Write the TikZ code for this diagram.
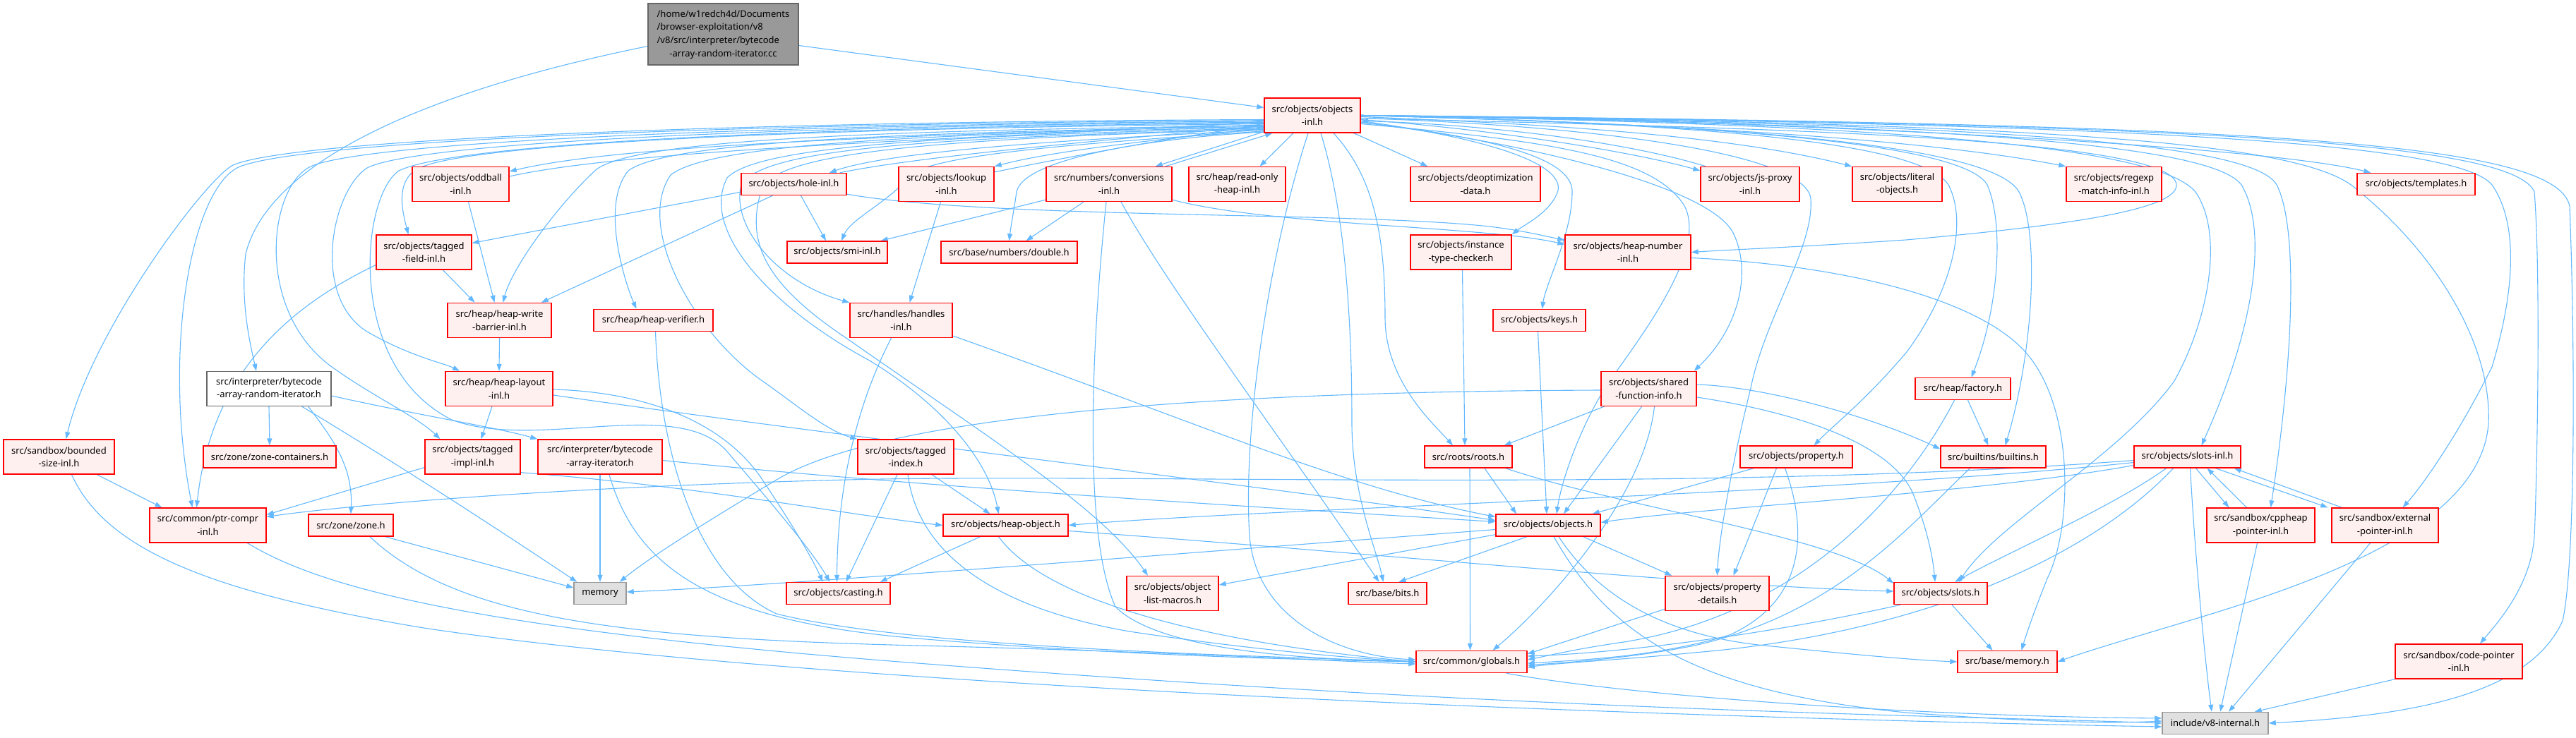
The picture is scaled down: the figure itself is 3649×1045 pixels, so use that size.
\documentclass[tikz,border=0pt]{standalone}
\usepackage{fontspec}
\setmainfont{Noto Sans}
\usetikzlibrary{arrows.meta,calc}
\pgfdeclarelayer{bg}
\pgfsetlayers{bg,main}
\definecolor{pinkbg}{HTML}{FFF0F0}
\definecolor{edgeblue}{HTML}{63B8FF}
\definecolor{rootfill}{HTML}{999999}
\definecolor{rootdraw}{HTML}{666666}
\definecolor{sysfill}{HTML}{E0E0E0}
\definecolor{sysdraw}{HTML}{999999}
\newcommand\fsz{\fontsize{13pt}{18.7pt}\selectfont}
\begin{document}
\begin{tikzpicture}[x=1pt,y=-1pt,
  nb/.style={draw=red, fill=pinkbg, line width=1.4pt, inner sep=0pt, align=center, font=\fsz},
  rootbox/.style={nb, fill=rootfill, draw=rootdraw},
  whitebox/.style={nb, fill=white, draw=rootdraw},
  sysbox/.style={nb, fill=sysfill, draw=sysdraw},
  one/.style={minimum height=31pt},
  two/.style={minimum height=49pt},
  e/.style={draw=edgeblue, line width=1.1pt, -{Triangle[length=10pt,width=7pt]}}]
\useasboundingbox (0,0) rectangle (3649,1045);
% ---------- nodes ----------
\node[rootbox, minimum width=213pt, minimum height=87pt] (root) at (1024.5,48.5)
  {\begin{tabular}{@{}l@{}}/home/w1redch4d/Documents\\/browser-exploitation/v8\\/v8/src/interpreter/bytecode\\\multicolumn{1}{@{}c@{}}{-array-random-iterator.cc}\end{tabular}};
\node[nb, two, minimum width=136pt] (objinl) at (1859,163.5) {src/objects/objects\\-inl.h};
% row 3
\node[nb, two, minimum width=137pt] (oddball) at (652.5,261) {src/objects/oddball\\-inl.h};
\node[nb, one, minimum width=149pt] (hole) at (1124.5,261) {src/objects/hole-inl.h};
\node[nb, two, minimum width=135pt] (lookup) at (1340.5,261) {src/objects/lookup\\-inl.h};
\node[nb, two, minimum width=178pt] (conv) at (1571,261) {src/numbers/conversions\\-inl.h};
\node[nb, two, minimum width=137pt] (ronly) at (1752.5,261) {src/heap/read-only\\-heap-inl.h};
\node[nb, two, minimum width=184pt] (deopt) at (2090,261) {src/objects/deoptimization\\-data.h};
\node[nb, two, minimum width=140pt] (jsproxy) at (2479,261) {src/objects/js-proxy\\-inl.h};
\node[nb, two, minimum width=127pt] (literal) at (2687.5,261) {src/objects/literal\\-objects.h};
\node[nb, two, minimum width=135pt] (regexp) at (2994.5,261) {src/objects/regexp\\-match-info-inl.h};
\node[nb, one, minimum width=167pt] (templ) at (3422.5,261) {src/objects/templates.h};
% row 4
\node[nb, two, minimum width=135pt] (tfield) at (600.5,357.5) {src/objects/tagged\\-field-inl.h};
\node[nb, one, minimum width=142pt] (smi) at (1186,357.5) {src/objects/smi-inl.h};
\node[nb, one, minimum width=193pt] (dbl) at (1429.5,357.5) {src/base/numbers/double.h};
\node[nb, two, minimum width=143pt] (inst) at (2069.5,357.5) {src/objects/instance\\-type-checker.h};
\node[nb, two, minimum width=178pt] (hnum) at (2306,357.5) {src/objects/heap-number\\-inl.h};
% row 5
\node[nb, two, minimum width=147pt] (hwb) at (707.5,454) {src/heap/heap-write\\-barrier-inl.h};
\node[nb, one, minimum width=169pt] (verif) at (925.5,454) {src/heap/heap-verifier.h};
\node[nb, two, minimum width=145pt] (handles) at (1276.5,454) {src/handles/handles\\-inl.h};
\node[nb, one, minimum width=131pt] (keys) at (2180.5,454) {src/objects/keys.h};
% row 6
\node[whitebox, two, minimum width=176pt] (brit) at (381,551) {src/interpreter/bytecode\\-array-random-iterator.h};
\node[nb, two, minimum width=152pt] (hlayout) at (707,551) {src/heap/heap-layout\\-inl.h};
\node[nb, two, minimum width=135pt] (shared) at (2335.5,551) {src/objects/shared\\-function-info.h};
\node[nb, one, minimum width=135pt] (factory) at (2780.5,551) {src/heap/factory.h};
% row 7
\node[nb, two, minimum width=157pt] (bounded) at (83.5,647.5) {src/sandbox/bounded\\-size-inl.h};
\node[nb, one, minimum width=188pt] (zonec) at (382,647.5) {src/zone/zone-containers.h};
\node[nb, two, minimum width=135pt] (timpl) at (669.5,647.5) {src/objects/tagged\\-impl-inl.h};
\node[nb, two, minimum width=176pt] (bai) at (850,647.5) {src/interpreter/bytecode\\-array-iterator.h};
\node[nb, two, minimum width=136pt] (tindex) at (1283,647.5) {src/objects/tagged\\-index.h};
\node[nb, one, minimum width=124pt] (roots) at (2080,647.5) {src/roots/roots.h};
\node[nb, one, minimum width=159pt] (prop) at (2544.5,647.5) {src/objects/property.h};
\node[nb, one, minimum width=149pt] (builtins) at (2823.5,647.5) {src/builtins/builtins.h};
\node[nb, one, minimum width=151pt] (slotsinl) at (3098.5,647.5) {src/objects/slots-inl.h};
% row 8
\node[nb, two, minimum width=165pt] (ptrc) at (294.5,744.5) {src/common/ptr-compr\\-inl.h};
\node[nb, one, minimum width=120pt] (zone) at (497,744.5) {src/zone/zone.h};
\node[nb, one, minimum width=177pt] (hobj) at (1424.5,744.5) {src/objects/heap-object.h};
\node[nb, one, minimum width=148pt] (objh) at (2193,744.5) {src/objects/objects.h};
\node[nb, two, minimum width=153pt] (cppheap) at (3202.5,744.5) {src/sandbox/cppheap\\-pointer-inl.h};
\node[nb, two, minimum width=151pt] (extp) at (3378.5,744.5) {src/sandbox/external\\-pointer-inl.h};
% row 9
\node[sysbox, one, minimum width=74pt] (memory) at (850,841) {memory};
\node[nb, one, minimum width=147pt] (casting) at (1187.5,841) {src/objects/casting.h};
\node[nb, two, minimum width=130pt] (olm) at (1661,841) {src/objects/object\\-list-macros.h};
\node[nb, one, minimum width=111pt] (bits) at (1965.5,841) {src/base/bits.h};
\node[nb, two, minimum width=147pt] (pdet) at (2432.5,841) {src/objects/property\\-details.h};
\node[nb, one, minimum width=132pt] (slots) at (2749,841) {src/objects/slots.h};
% row 10
\node[nb, one, minimum width=157pt] (globals) at (2084.5,938) {src/common/globals.h};
\node[nb, one, minimum width=141pt] (bmem) at (2843.5,938) {src/base/memory.h};
\node[nb, two, minimum width=180pt] (codeptr) at (3483,937.5) {src/sandbox/code-pointer\\-inl.h};
% row 11
\node[sysbox, one, minimum width=150pt] (v8int) at (3138,1025) {include/v8-internal.h};
% ---------- edges ----------
\begin{pgfonlayer}{bg}
% root
\draw[e] ($(root.east)+(0,16)$) -- ($(objinl.west)+(0,-11)$);
\draw[e] ($(root.west)+(0,17)$) .. controls (600,130) and (380,230) .. (348,360) .. controls (340,430) and (355,490) .. ($(brit.north)+(-18,0)$);
% objects-inl : left bundle
\draw[e] (objinl.185) .. controls (1100,172) and (420,195) .. (330,234) .. controls (290,255) and (130,470) .. ($(bounded.north)+(10,0)$);
\draw[e] (objinl.186) .. controls (1100,174) and (440,197) .. (340,236) .. controls (270,265) and (230,500) .. ($(ptrc.north)+(-22,0)$);
\draw[e] (objinl.187) .. controls (1100,176) and (520,200) .. (440,236) .. controls (380,265) and (360,440) .. (470,520) .. controls (530,563) and (590,590) .. ($(timpl.north)+(-46,0)$);
\draw[e] (objinl.188) .. controls (1100,178) and (590,202) .. (520,238) .. controls (470,270) and (440,420) .. (520,470) .. controls (580,505) and (630,515) .. ($(hlayout.north)+(-56,0)$);
\draw[e] (objinl.189) .. controls (1100,180) and (640,205) .. (565,242) .. controls (510,280) and (490,520) .. (640,595) .. controls (760,640) and (960,560) .. (1030,640) .. controls (1090,710) and (1150,780) .. ($(casting.north)+(-12,0)$);
\draw[e] (objinl.190) .. controls (1100,182) and (650,205) .. (590,240) .. controls (560,258) and (570,300) .. ($(tfield.north)+(-22,0)$);
\draw[e] (objinl.191) .. controls (1400,190) and (900,200) .. ($(oddball.east)+(0,-18)$);
\draw[e] ($(oddball.east)+(0,-11)$) .. controls (900,210) and (1400,196) .. (objinl.188);
\draw[e] (objinl.192) .. controls (1200,185) and (900,200) .. (845,240) .. controls (790,290) and (725,380) .. ($(hwb.north)+(5,0)$);
\draw[e] (objinl.193) .. controls (1200,188) and (940,205) .. (890,242) .. controls (850,290) and (885,400) .. ($(verif.north)+(-24,0)$);
\draw[e] (objinl.194) .. controls (1250,190) and (1000,208) .. (950,248) .. controls (900,320) and (980,470) .. (1080,540) .. controls (1130,575) and (1170,610) .. (tindex.north west);
\draw[e] (objinl.195) .. controls (1300,192) and (1070,210) .. (1030,252) .. controls (990,330) and (1100,440) .. (1230,510) .. controls (1330,570) and (1400,650) .. ($(hobj.north)+(-10,0)$);
\draw[e] (objinl.196) .. controls (1300,195) and (1080,212) .. (1050,262) .. controls (1035,320) and (1100,400) .. (handles.north west);
\draw[e] (objinl.196) .. controls (1300,197) and (1110,218) .. (1080,265) .. controls (1055,340) and (1080,400) .. (1200,480) .. controls (1400,620) and (1560,720) .. ($(olm.north)+(-35,0)$);
\draw[e] (objinl.197) .. controls (1500,198) and (1260,215) .. ($(hole.north east)+(-25,0)$);
\draw[e] ($(hole.north east)+(-10,0)$) .. controls (1300,222) and (1550,200) .. (objinl.192);
\draw[e] (objinl.198) .. controls (1550,202) and (1310,218) .. (1285,252) .. controls (1265,282) and (1205,310) .. ($(smi.north)+(6,0)$);
\draw[e] (objinl.199) .. controls (1650,194) and (1450,222) .. (1440,272) .. controls (1436,300) and (1432,320) .. (dbl.north);
\draw[e] (objinl.195) .. controls (1650,197) and (1500,212) .. (lookup.north east);
\draw[e] ($(lookup.north east)+(0,8)$) .. controls (1550,215) and (1700,188) .. (objinl.192);
\draw[e] ($(objinl.south west)+(0,-2)$) -- ($(conv.north east)+(-24,0)$);
\draw[e] ($(conv.north east)+(-10,0)$) -- ($(objinl.south west)+(12,0)$);
\draw[e] ($(objinl.south)+(-27,0)$) -- ($(ronly.north)+(32,0)$);
\draw[e] ($(objinl.south east)+(-10,0)$) -- ($(deopt.north west)+(25,0)$);
\draw[e] ($(objinl.south)+(-6,0)$) .. controls (1800,350) and (1760,600) .. (1770,760) .. controls (1780,880) and (1900,930) .. ($(globals.west)+(0,-3)$);
\draw[e] ($(objinl.south)+(12,0)$) .. controls (1905,300) and (1915,450) .. (1915,600) .. controls (1915,700) and (1950,780) .. ($(bits.north)+(-6,0)$);
\draw[e] ($(objinl.south)+(30,0)$) .. controls (1945,250) and (1962,330) .. (1962,450) .. controls (1962,540) and (2030,600) .. ($(roots.north)+(-22,0)$);
% objects-inl : right bundle
\draw[e] ($(objinl.east)+(0,8)$) .. controls (2100,195) and (2215,230) .. (2207,270) .. controls (2198,300) and (2160,318) .. (inst.north east);
\draw[e] ($(objinl.east)+(0,10)$) .. controls (2120,195) and (2225,225) .. (2227,270) .. controls (2228,330) and (2190,400) .. ($(keys.north)+(4,0)$);
\draw[e] ($(objinl.east)+(0,12)$) .. controls (2200,200) and (2340,222) .. (2385,290) .. controls (2420,350) and (2330,470) .. (2280,540) .. controls (2240,600) and (2212,680) .. ($(objh.north)+(12,0)$);
\draw[e] ($(objinl.east)+(0,10)$) .. controls (2150,200) and (2420,262) .. (2455,330) .. controls (2480,380) and (2468,460) .. ($(shared.north east)+(-4,0)$);
\draw[e] ($(objinl.east)+(0,4)$) .. controls (2400,180) and (3080,190) .. (3083,262) .. controls (3085,300) and (2900,322) .. (2700,340) .. controls (2550,350) and (2450,354) .. (hnum.east);
\draw[e] ($(objinl.east)+(0,6)$) .. controls (2100,182) and (2300,212) .. ($(jsproxy.north west)+(0,6)$);
\draw[e] ($(jsproxy.north west)+(8,0)$) .. controls (2300,200) and (2100,176) .. ($(objinl.east)+(0,8)$);
\draw[e] ($(objinl.east)+(0,2)$) .. controls (2200,176) and (2450,192) .. (literal.north west);
\draw[e] (objinl.east) .. controls (2300,174) and (2700,192) .. (regexp.north west);
\draw[e] (objinl.east) .. controls (2500,170) and (3200,205) .. ($(templ.north west)+(20,0)$);
\draw[e] ($(objinl.east)+(0,4)$) .. controls (2300,180) and (2560,222) .. (2565,282) .. controls (2570,350) and (2500,450) .. (2480,550) .. controls (2455,650) and (2435,760) .. (pdet.north);
\draw[e] (objinl.east) .. controls (2400,175) and (2720,200) .. (2760,262) .. controls (2790,320) and (2760,420) .. (2700,500) .. controls (2640,570) and (2600,600) .. ($(prop.north)+(25,0)$);
\draw[e] (objinl.east) .. controls (2400,175) and (2780,200) .. (2815,262) .. controls (2840,320) and (2830,440) .. ($(factory.north)+(12,0)$);
\draw[e] (objinl.east) .. controls (2400,175) and (2820,200) .. (2860,272) .. controls (2890,330) and (2880,500) .. ($(builtins.north)+(17,0)$);
\draw[e] (objinl.east) .. controls (2600,175) and (3050,200) .. (3110,272) .. controls (3150,330) and (3130,450) .. (3080,540) .. controls (3000,650) and (2830,740) .. ($(slots.north)+(26,0)$);
\draw[e] (objinl.east) .. controls (2700,175) and (3130,200) .. (3175,262) .. controls (3210,320) and (3200,450) .. ($(slotsinl.north)+(20,0)$);
\draw[e] (objinl.east) .. controls (2800,175) and (3190,200) .. (3225,262) .. controls (3255,320) and (3250,500) .. ($(cppheap.north)+(14,0)$);
\draw[e] (objinl.east) .. controls (2900,175) and (3270,200) .. (3340,270) .. controls (3440,350) and (3530,480) .. (3525,600) .. controls (3515,740) and (3300,820) .. (3100,880) .. controls (3000,910) and (2950,925) .. (bmem.east);
\draw[e] (objinl.east) .. controls (3000,175) and (3480,200) .. (3530,262) .. controls (3570,320) and (3560,420) .. (3530,520) .. controls (3480,620) and (3430,690) .. ($(extp.north)+(25,0)$);
\draw[e] (objinl.east) .. controls (3100,175) and (3560,200) .. (3590,272) .. controls (3600,400) and (3593,700) .. (3590,760) .. controls (3585,830) and (3540,880) .. ($(codeptr.north)+(30,0)$);
\draw[e] (objinl.east) .. controls (3200,175) and (3620,200) .. (3640,292) .. controls (3648,500) and (3648,800) .. (3630,880) .. controls (3580,990) and (3400,1015) .. (v8int.east);
% bytecode iterators, zone
\draw[e] (brit.south) -- (zonec.north);
\draw[e] ($(brit.south east)+(-33,0)$) .. controls (470,620) and (500,660) .. (zone.north);
\draw[e] ($(brit.south east)+(-42,0)$) .. controls (600,680) and (750,780) .. ($(memory.north west)+(5,0)$);
\draw[e] ($(brit.east)+(0,10)$) .. controls (600,590) and (700,605) .. (bai.north west);
\draw[e] (bai.south) -- (memory.north);
\draw[e] ($(bai.south)+(13,0)$) .. controls (900,800) and (1000,880) .. (1300,905) .. controls (1600,930) and (1850,935) .. (globals.west);
\draw[e] ($(bai.east)+(0,5)$) .. controls (1300,690) and (1800,720) .. ($(objh.west)+(0,-5)$);
\draw[e] ($(zone.south east)+(-12,0)$) -- ($(memory.west)+(0,-8)$);
\draw[e] ($(zone.south)+(27,0)$) .. controls (650,880) and (900,905) .. (1300,915) .. controls (1700,925) and (1900,938) .. ($(globals.west)+(0,3)$);
% sandbox / ptr-compr
\draw[e] ($(bounded.south)+(54,0)$) -- ($(ptrc.north west)+(18,0)$);
\draw[e] ($(bounded.south)+(18,0)$) .. controls (150,780) and (300,840) .. (600,890) .. controls (1200,980) and (2500,1020) .. ($(v8int.west)+(0,5)$);
\draw[e] ($(ptrc.south)+(56,0)$) .. controls (450,830) and (650,890) .. (1300,940) .. controls (2200,1010) and (2800,1015) .. (v8int.west);
% tagged / heap
\draw[e] ($(tfield.south)+(27,0)$) -- ($(hwb.north)+(-35,0)$);
\draw[e] ($(tfield.west)+(0,18)$) .. controls (420,430) and (300,520) .. ($(ptrc.north)+(-16,0)$);
\draw[e] ($(oddball.south)+(11,0)$) -- ($(hwb.north)+(-7,0)$);
\draw[e] ($(hole.south west)+(0,-5)$) -- ($(tfield.east)+(0,-13)$);
\draw[e] ($(hole.south)+(-30,0)$) -- ($(hwb.north east)+(-15,0)$);
\draw[e] ($(hole.south)+(10,0)$) -- ($(smi.north)+(-16,0)$);
\draw[e] ($(hole.south east)+(0,-2)$) .. controls (1400,310) and (1900,300) .. (2100,320) .. controls (2150,325) and (2190,335) .. ($(hnum.north west)+(0,8)$);
\draw[e] (hwb.south) -- (hlayout.north);
\draw[e] ($(hlayout.south)+(-10,0)$) -- ($(timpl.north)+(12,0)$);
\draw[e] ($(hlayout.east)+(0,1)$) .. controls (900,555) and (1020,590) .. (1080,680) .. controls (1120,740) and (1150,790) .. ($(casting.north)+(-22,0)$);
\draw[e] ($(hlayout.east)+(0,9)$) .. controls (1200,620) and (1800,690) .. ($(objh.west)+(0,-7)$);
\draw[e] ($(verif.south)+(3,0)$) .. controls (935,650) and (990,820) .. (1100,870) .. controls (1300,920) and (1800,930) .. (globals.west);
\draw[e] ($(lookup.south)+(-8,0)$) -- ($(handles.north)+(12,0)$);
\draw[e] ($(handles.south)+(-14,0)$) .. controls (1210,580) and (1186,700) .. ($(casting.north)+(-2,0)$);
\draw[e] ($(handles.east)+(0,22)$) .. controls (1700,600) and (1900,690) .. ($(objh.west)+(0,-12)$);
% conversions
\draw[e] ($(conv.south west)+(0,-3)$) -- ($(smi.north east)+(-10,0)$);
\draw[e] ($(conv.south)+(-36,0)$) -- ($(dbl.north)+(24,0)$);
\draw[e] ($(conv.south east)+(0,-3)$) .. controls (1800,320) and (2100,320) .. ($(hnum.north west)+(0,14)$);
\draw[e] ($(conv.south)+(-4,0)$) .. controls (1550,450) and (1530,750) .. (1580,860) .. controls (1650,930) and (1900,935) .. (globals.west);
\draw[e] ($(conv.south)+(17,0)$) .. controls (1650,400) and (1800,600) .. ($(bits.north)+(-12,0)$);
\draw[e] ($(inst.south)+(2,0)$) -- ($(roots.north)+(-5,0)$);
\draw[e] ($(keys.south)+(-2,0)$) -- ($(objh.north)+(-2,0)$);
\draw[e] ($(hnum.east)+(0,8)$) .. controls (2600,375) and (2800,420) .. (2870,500) .. controls (2940,580) and (2935,750) .. (2900,820) .. controls (2880,870) and (2870,900) .. ($(bmem.north)+(20,0)$);
% tagged-impl, tagged-index, heap-object
\draw[e] ($(timpl.west)+(0,15)$) -- ($(ptrc.east)+(0,-15)$);
\draw[e] ($(timpl.south east)+(0,-3)$) .. controls (1000,690) and (1200,730) .. (hobj.west);
\draw[e] ($(tindex.south)+(37,0)$) -- ($(hobj.north)+(-22,0)$);
\draw[e] ($(tindex.south)+(-12,0)$) -- ($(casting.north)+(11,0)$);
\draw[e] ($(tindex.south)+(3,0)$) .. controls (1300,780) and (1400,860) .. (1600,895) .. controls (1800,925) and (1950,935) .. (globals.west);
\draw[e] ($(hobj.south)+(-36,0)$) -- ($(casting.north east)+(-15,0)$);
\draw[e] ($(hobj.south)+(-10,0)$) .. controls (1480,850) and (1700,910) .. (globals.west);
\draw[e] ($(hobj.east)+(0,8)$) .. controls (1900,780) and (2400,830) .. ($(slots.west)+(0,-3)$);
% shared-function-info, roots
\draw[e] ($(shared.west)+(0,2)$) .. controls (1700,555) and (1250,590) .. (1100,680) .. controls (1000,740) and (920,790) .. ($(memory.north east)+(-10,0)$);
\draw[e] ($(shared.south west)+(5,0)$) -- ($(roots.north east)+(-12,0)$);
\draw[e] ($(shared.south)+(-10,0)$) -- ($(objh.north)+(22,0)$);
\draw[e] ($(shared.south)+(8,0)$) .. controls (2330,700) and (2200,850) .. ($(globals.north)+(30,0)$);
\draw[e] ($(shared.east)+(0,-6)$) .. controls (2500,548) and (2650,590) .. ($(builtins.north west)+(0,5)$);
\draw[e] ($(shared.east)+(0,12)$) .. controls (2550,585) and (2680,630) .. (2710,700) .. controls (2730,750) and (2738,790) .. ($(slots.north)+(-8,0)$);
\draw[e] ($(roots.south)+(23,0)$) -- ($(objh.north)+(-45,0)$);
\draw[e] ($(roots.south)+(2,0)$) -- ($(globals.north)+(-2,0)$);
\draw[e] ($(roots.south east)+(-10,0)$) .. controls (2300,720) and (2600,760) .. ($(slots.north west)+(0,2)$);
% objects.h
\draw[e] ($(objh.west)+(0,6)$) .. controls (1600,790) and (1100,830) .. ($(memory.east)+(0,-2)$);
\draw[e] ($(objh.south west)+(0,-3)$) -- ($(olm.east)+(0,-12)$);
\draw[e] ($(objh.south)+(-30,0)$) -- ($(bits.north)+(16,0)$);
\draw[e] ($(objh.south east)+(-25,0)$) -- ($(pdet.north west)+(10,0)$);
\draw[e] ($(objh.south)+(15,0)$) .. controls (2260,840) and (2350,900) .. (2500,915) .. controls (2600,925) and (2700,935) .. (bmem.west);
\draw[e] ($(objh.south)+(8,0)$) .. controls (2280,900) and (2400,980) .. (2700,1010) .. controls (2900,1025) and (3000,1025) .. ($(v8int.west)+(0,-3)$);
\draw[e] ($(globals.south east)+(-30,0)$) .. controls (2300,985) and (2700,1015) .. ($(v8int.west)+(0,-7)$);
% factory, property, builtins
\draw[e] ($(factory.south)+(7,0)$) -- ($(builtins.north)+(-7,0)$);
\draw[e] ($(factory.south)+(-12,0)$) .. controls (2700,700) and (2550,870) .. (2300,910) .. controls (2230,920) and (2190,930) .. ($(globals.east)+(0,-3)$);
\draw[e] ($(prop.south west)+(20,0)$) -- ($(objh.north east)+(-12,0)$);
\draw[e] ($(prop.south)+(-28,0)$) -- ($(pdet.north)+(23,0)$);
\draw[e] ($(prop.south)+(-16,0)$) .. controls (2560,750) and (2560,850) .. (2450,900) .. controls (2350,930) and (2250,935) .. ($(globals.east)+(0,2)$);
\draw[e] ($(builtins.south)+(-33,0)$) .. controls (2700,750) and (2600,870) .. (2400,915) .. controls (2300,935) and (2200,940) .. ($(globals.east)+(0,5)$);
% slots-inl
\draw[e] ($(slotsinl.west)+(0,5)$) .. controls (2400,700) and (1600,670) .. (1200,680) .. controls (800,690) and (500,715) .. ($(ptrc.east)+(0,-12)$);
\draw[e] ($(slotsinl.west)+(0,8)$) .. controls (2600,700) and (1800,720) .. (hobj.east);
\draw[e] ($(slotsinl.west)+(0,12)$) .. controls (2800,700) and (2400,720) .. ($(objh.east)+(0,-4)$);
\draw[e] ($(slotsinl.south)+(-30,0)$) .. controls (2990,720) and (2850,780) .. ($(slots.north)+(20,0)$);
\draw[e] ($(slotsinl.south)+(-20,0)$) .. controls (2950,800) and (2700,900) .. (2400,925) .. controls (2300,935) and (2200,940) .. ($(globals.east)+(0,8)$);
\draw[e] ($(slotsinl.south)+(4,0)$) .. controls (3110,800) and (3125,950) .. ($(v8int.north)+(-5,0)$);
\draw[e] ($(slotsinl.south)+(12,0)$) -- ($(cppheap.north)+(-45,0)$);
\draw[e] ($(cppheap.north)+(-20,0)$) -- ($(slotsinl.south)+(28,0)$);
\draw[e] ($(slotsinl.south)+(40,0)$) -- ($(extp.north west)+(-5,0)$);
\draw[e] ($(extp.north west)+(15,0)$) -- ($(slotsinl.south east)+(-10,0)$);
\draw[e] ($(cppheap.south)+(-5,0)$) -- ($(v8int.north)+(7,0)$);
\draw[e] ($(extp.south)+(-21,0)$) -- ($(v8int.north)+(19,0)$);
\draw[e] (codeptr.south west) -- ($(v8int.north east)+(-20,0)$);
% slots, property-details
\draw[e] ($(slots.south west)+(10,0)$) .. controls (2500,900) and (2300,925) .. ($(globals.east)+(0,-8)$);
\draw[e] ($(slots.south)+(16,0)$) -- ($(bmem.north)+(-21,0)$);
\draw[e] ($(pdet.south west)+(0,-3)$) -- ($(globals.north east)+(0,5)$);
\end{pgfonlayer}
\end{tikzpicture}
\end{document}
